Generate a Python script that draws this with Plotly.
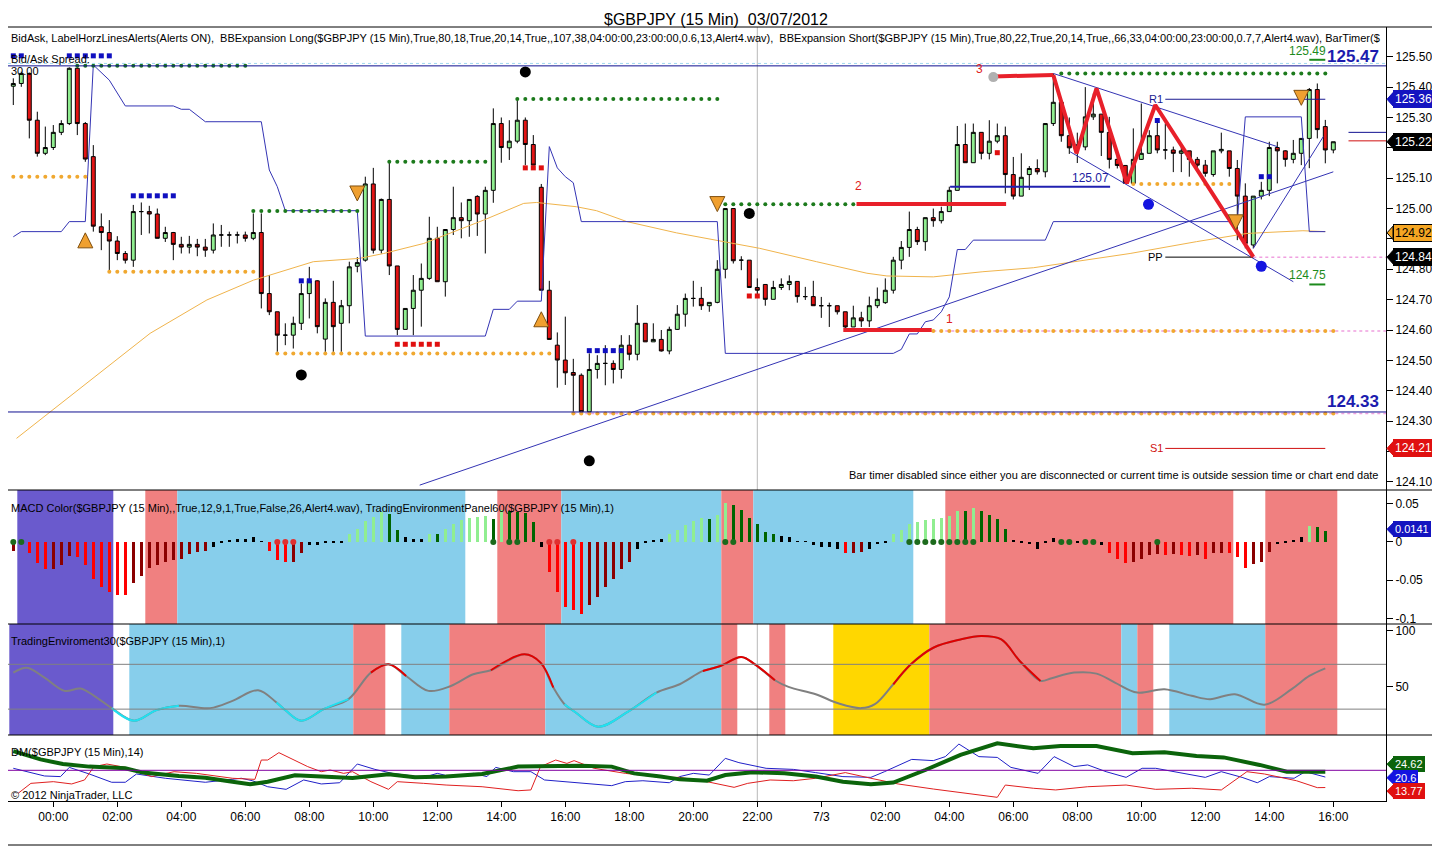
import plotly.graph_objects as go

# GBPJPY 15 min bars, bar 0 = 03/05 22:45 ... bar 165 = 03/07 16:00
opens = [125.403, 125.412, 125.445, 125.291, 125.182, 125.201, 125.251, 125.280, 125.462, 125.280,
         125.171, 124.940, 124.921, 124.893, 124.852, 124.830, 124.990, 124.990, 124.982, 124.902,
         124.921, 124.882, 124.873, 124.882, 124.873, 124.863, 124.913, 124.913, 124.913, 124.913,
         124.902, 124.921, 124.720, 124.660, 124.583, 124.583, 124.622, 124.720, 124.762, 124.570,
         124.691, 124.622, 124.680, 124.810, 124.830, 125.081, 124.863, 125.030, 124.811, 124.602,
         124.671, 124.731, 124.770, 124.902, 124.759, 124.931, 124.970, 124.960, 125.040, 124.982,
         125.060, 125.280, 125.200, 125.222, 125.291, 125.211, 125.070, 124.731, 124.550, 124.501,
         124.460, 124.451, 124.331, 124.470, 124.490, 124.490, 124.470, 124.550, 124.520, 124.622,
         124.561, 124.569, 124.531, 124.602, 124.652, 124.704, 124.704, 124.680, 124.691, 124.800,
         125.000, 124.830, 124.830, 124.740, 124.750, 124.701, 124.740, 124.750, 124.760, 124.710,
         124.710, 124.680, 124.680, 124.680, 124.660, 124.610, 124.640, 124.630, 124.680, 124.690,
         124.731, 124.830, 124.872, 124.931, 124.891, 124.970, 124.960, 124.990, 125.060, 125.211,
         125.151, 125.251, 125.182, 125.222, 125.240, 125.112, 125.041, 125.112, 125.132, 125.121,
         125.280, 125.350, 125.240, 125.200, 125.203, 125.302, 125.311, 125.251, 125.162, 125.142,
         125.083, 125.162, 125.182, 125.240, 125.193, 125.193, 125.182, 125.190, 125.162, 125.143,
         125.112, 125.190, 125.190, 125.132, 125.041, 124.880, 125.041, 125.060, 125.201, 125.190,
         125.162, 125.182, 125.231, 125.392, 125.270, 125.193]
highs = [125.429, 125.451, 125.448, 125.319, 125.270, 125.275, 125.291, 125.465, 125.465, 125.285,
         125.209, 124.984, 124.962, 124.909, 124.860, 125.012, 125.020, 125.009, 125.000, 124.940,
         124.923, 124.907, 124.910, 124.900, 124.900, 124.951, 124.946, 124.924, 124.924, 124.924,
         124.984, 124.984, 124.781, 124.660, 124.622, 124.644, 124.753, 124.808, 124.764, 124.704,
         124.762, 124.699, 124.825, 124.840, 125.105, 125.134, 125.033, 125.154, 124.811, 124.671,
         124.781, 124.819, 124.973, 124.940, 124.931, 125.072, 125.020, 125.030, 125.044, 125.072,
         125.330, 125.300, 125.291, 125.357, 125.300, 125.242, 125.081, 124.762, 124.592, 124.644,
         124.505, 124.457, 124.523, 124.517, 124.550, 124.500, 124.583, 124.583, 124.682, 124.622,
         124.622, 124.600, 124.611, 124.682, 124.720, 124.762, 124.742, 124.691, 124.830, 125.000,
         125.000, 124.843, 124.830, 124.770, 124.750, 124.762, 124.770, 124.780, 124.760, 124.742,
         124.762, 124.709, 124.690, 124.680, 124.660, 124.680, 124.660, 124.710, 124.740, 124.770,
         124.841, 124.893, 124.990, 124.940, 124.970, 125.000, 125.006, 125.072, 125.272, 125.280,
         125.280, 125.251, 125.291, 125.280, 125.270, 125.170, 125.182, 125.140, 125.162, 125.280,
         125.445, 125.350, 125.300, 125.250, 125.400, 125.379, 125.311, 125.302, 125.182, 125.142,
         125.264, 125.346, 125.258, 125.291, 125.280, 125.204, 125.204, 125.190, 125.170, 125.160,
         125.190, 125.250, 125.190, 125.160, 125.083, 125.041, 125.088, 125.220, 125.220, 125.192,
         125.226, 125.231, 125.397, 125.412, 125.292, 125.220]
lows = [125.341, 125.401, 125.231, 125.171, 125.176, 125.193, 125.242, 125.275, 125.242, 125.154,
        124.924, 124.863, 124.797, 124.830, 124.819, 124.808, 124.913, 124.918, 124.902, 124.890,
        124.830, 124.852, 124.852, 124.843, 124.841, 124.852, 124.874, 124.874, 124.885, 124.891,
        124.896, 124.671, 124.649, 124.528, 124.550, 124.539, 124.600, 124.638, 124.589, 124.528,
        124.528, 124.528, 124.622, 124.790, 124.825, 124.852, 124.852, 124.781, 124.583, 124.602,
        124.583, 124.611, 124.765, 124.759, 124.710, 124.913, 124.902, 124.907, 124.910, 124.852,
        125.019, 125.151, 125.160, 125.215, 125.143, 125.143, 124.731, 124.569, 124.410, 124.419,
        124.331, 124.328, 124.328, 124.440, 124.418, 124.424, 124.440, 124.500, 124.500, 124.561,
        124.561, 124.529, 124.520, 124.600, 124.611, 124.677, 124.666, 124.660, 124.688, 124.770,
        124.819, 124.797, 124.740, 124.712, 124.680, 124.701, 124.732, 124.731, 124.690, 124.699,
        124.680, 124.640, 124.610, 124.651, 124.605, 124.610, 124.610, 124.610, 124.672, 124.686,
        124.720, 124.800, 124.841, 124.880, 124.861, 124.940, 124.951, 124.990, 125.060, 125.151,
        125.151, 125.162, 125.162, 125.215, 125.050, 125.030, 125.041, 125.061, 125.112, 125.103,
        125.272, 125.220, 125.180, 125.150, 125.192, 125.292, 125.173, 125.132, 125.132, 125.083,
        125.083, 125.160, 125.182, 125.182, 125.162, 125.120, 125.120, 125.105, 125.132, 125.105,
        125.105, 125.182, 125.105, 124.896, 124.869, 124.869, 125.030, 125.041, 125.083, 125.138,
        125.149, 125.143, 125.133, 125.231, 125.149, 125.182]
closes = [125.412, 125.445, 125.291, 125.182, 125.201, 125.251, 125.280, 125.462, 125.280, 125.163,
          124.942, 124.921, 124.893, 124.852, 124.830, 124.990, 124.990, 124.982, 124.902, 124.921,
          124.882, 124.873, 124.882, 124.873, 124.863, 124.913, 124.913, 124.913, 124.913, 124.902,
          124.921, 124.720, 124.660, 124.583, 124.583, 124.622, 124.720, 124.762, 124.611, 124.691,
          124.611, 124.680, 124.808, 124.822, 125.081, 124.863, 125.030, 124.811, 124.602, 124.671,
          124.731, 124.770, 124.902, 124.759, 124.931, 124.970, 124.960, 125.030, 124.982, 125.060,
          125.280, 125.201, 125.222, 125.291, 125.211, 125.143, 124.731, 124.569, 124.501, 124.459,
          124.451, 124.331, 124.470, 124.490, 124.490, 124.470, 124.550, 124.520, 124.622, 124.561,
          124.569, 124.531, 124.602, 124.652, 124.704, 124.704, 124.680, 124.691, 124.800, 125.000,
          124.828, 124.830, 124.740, 124.731, 124.701, 124.740, 124.750, 124.760, 124.710, 124.710,
          124.680, 124.680, 124.680, 124.660, 124.610, 124.640, 124.630, 124.680, 124.701, 124.731,
          124.830, 124.872, 124.931, 124.891, 124.970, 124.960, 124.990, 125.060, 125.211, 125.151,
          125.251, 125.182, 125.222, 125.240, 125.112, 125.041, 125.103, 125.132, 125.121, 125.280,
          125.350, 125.240, 125.200, 125.210, 125.302, 125.311, 125.251, 125.162, 125.142, 125.083,
          125.162, 125.182, 125.240, 125.193, 125.193, 125.182, 125.190, 125.162, 125.143, 125.116,
          125.190, 125.195, 125.132, 125.041, 124.885, 125.041, 125.060, 125.201, 125.190, 125.162,
          125.182, 125.231, 125.392, 125.260, 125.193, 125.220]
bars = list(range(len(closes)))

# x axis labels (every 2 hours)
tick_bars = list(range(5, 166, 8))
tick_text = ["00:00", "02:00", "04:00", "06:00", "08:00", "10:00", "12:00", "14:00", "16:00", "18:00",
             "20:00", "22:00", "7/3", "02:00", "04:00", "06:00", "08:00", "10:00", "12:00", "14:00", "16:00"]
price_ticks = [124.1, 124.2, 124.3, 124.4, 124.5, 124.6, 124.7, 124.8, 124.9, 125.0, 125.1, 125.2, 125.3, 125.4, 125.5]

# blue stepped channel line
step_x = [0, 1, 6, 7, 9, 10, 12, 14, 20, 21, 22, 24, 31, 32, 33, 34, 43, 44, 59, 60, 62, 63, 66, 67, 68, 69,
          70, 71, 88, 89, 110, 111, 112, 113, 114, 115, 116, 117, 118, 119, 120, 129, 130, 153, 154, 161, 162, 164]
step_y = [124.907, 124.924, 124.924, 124.957, 124.957, 125.473, 125.423, 125.338, 125.338, 125.327, 125.327,
          125.286, 125.286, 125.127, 125.072, 124.993, 124.993, 124.580, 124.580, 124.668, 124.668, 124.695,
          124.695, 125.204, 125.134, 125.105, 125.085, 124.957, 124.957, 124.523, 124.523, 124.536, 124.587,
          124.587, 124.627, 124.633, 124.660, 124.709, 124.865, 124.865, 124.896, 124.896, 124.957, 124.957,
          125.302, 125.302, 124.924, 124.924]

# slow moving average (orange)
sma_x = [0.4, 5.4, 10.8, 17.1, 24.2, 30, 37.5, 43.3, 46.3, 51.3, 58.8, 63.8, 65.4, 70.4, 72.9, 76.7, 82.9,
         87.1, 93.3, 100.4, 106.7, 109.2, 115, 121.2, 127.5, 139.6, 147.9, 154.2, 161.2, 164]
sma_y = [124.243, 124.347, 124.457, 124.589, 124.699, 124.764, 124.825, 124.836, 124.852, 124.885, 124.962,
         125.017, 125.020, 125.006, 124.993, 124.957, 124.920, 124.899, 124.869, 124.825, 124.787, 124.778,
         124.775, 124.792, 124.805, 124.852, 124.891, 124.918, 124.927, 124.924]

# red zigzag
zig_x = [130, 132.9, 135.4, 139.2, 142.75, 155]
zig_y = [125.44, 125.182, 125.396, 125.083, 125.341, 124.841]

# horizontal dotted levels: (price, first bar, last bar)
green_dots = [(125.47, 8, 29), (124.992, 30, 43), (125.154, 47, 59), (125.361, 63, 88),
              (125.014, 89, 105), (125.445, 131, 164)]
orange_dots = [(125.105, 0, 9), (124.792, 12, 30), (124.523, 33, 67), (125.081, 140, 152),
               (124.325, 70, 165), (124.597, 115, 165)]
blue_squares = [(125.503, -1, 1), (125.503, 7, 12), (125.042, 15, 20), (124.762, 36, 37),
                (124.532, 72, 76), (125.29, 143, 143), (125.105, 156, 157)]
red_squares = [(124.553, 48, 53), (125.134, 64, 66), (124.712, 92, 93), (125.184, 123, 123)]

black_dot_x = [36, 64, 72, 92]
black_dot_y = [124.452, 125.45, 124.169, 124.984]
blue_dot_x = [141.9, 156]
blue_dot_y = [125.014, 124.81]

arrow_up_x = [9, 66]
arrow_up_y = [124.92, 124.66]
arrow_dn_x = [43, 88, 152.8, 161]
arrow_dn_y = [125.025, 124.99, 124.93, 125.34]

# MACD histogram
macd = [-0.012, 0.002, -0.015, -0.028, -0.035, -0.035, -0.030, -0.019, -0.020, -0.030,
        -0.049, -0.059, -0.065, -0.069, -0.070, -0.054, -0.044, -0.034, -0.030, -0.026,
        -0.024, -0.022, -0.016, -0.013, -0.012, -0.006, -0.001, 0.002, 0.004, 0.004,
        0.007, 0.001, -0.012, -0.023, -0.026, -0.026, -0.015, -0.004, -0.004, -0.002,
        -0.001, -0.001, 0.010, 0.017, 0.028, 0.033, 0.039, 0.037, 0.015, 0.007,
        0.004, 0.004, 0.011, 0.010, 0.017, 0.024, 0.029, 0.032, 0.033, 0.034,
        0.030, 0.042, 0.040, 0.039, 0.038, 0.026, -0.007, -0.039, -0.065, -0.085,
        -0.089, -0.094, -0.083, -0.072, -0.059, -0.049, -0.035, -0.026, -0.009, -0.001,
        0.002, 0.004, 0.010, 0.015, 0.022, 0.027, 0.031, 0.030, 0.035, 0.051,
        0.048, 0.042, 0.032, 0.023, 0.013, 0.010, 0.008, 0.0065, 0.001, 0.0005,
        -0.004, -0.006, -0.007, -0.009, -0.014, -0.014, -0.013, -0.009, -0.003, -0.0005,
        0.010, 0.016, 0.024, 0.026, 0.029, 0.030, 0.031, 0.034, 0.041, 0.040,
        0.045, 0.040, 0.035, 0.030, 0.017, 0.003, -0.0013, -0.003, -0.009, -0.0005,
        0.005, 0.001, 0.001, -0.002, 0.001, 0.001, -0.004, -0.015, -0.022, -0.027,
        -0.026, -0.022, -0.017, -0.016, -0.017, -0.016, -0.017, -0.018, -0.017, -0.022,
        -0.015, -0.014, -0.015, -0.020, -0.034, -0.029, -0.026, -0.013, -0.003, -0.0005,
        0.003, 0.007, 0.021, 0.020, 0.0141, None]
macd_up_dots = [0, 1, 60, 62, 63, 89, 90, 112, 113, 114, 115, 116, 117, 118, 119, 120, 131, 132, 134, 135, 143]
macd_dn_dots = [33, 34, 35, 67, 68, 70]

# trading environment background bands (first bar, last bar, state)
macd_bands = [(0.5, 12.5, "p"), (16.5, 20.5, "r"), (20.5, 56.5, "b"), (60.5, 68.5, "r"), (68.5, 88.5, "b"),
              (88.5, 92.5, "r"), (92.5, 112.5, "b"), (116.5, 152.5, "r"), (156.5, 165.5, "r")]
te_bands = [(-0.5, 12.5, "p"), (14.5, 42.5, "b"), (42.5, 46.5, "r"), (48.5, 54.5, "b"), (54.5, 66.5, "r"),
            (66.5, 88.5, "b"), (88.5, 90.5, "r"), (94.5, 96.5, "r"), (102.5, 114.5, "g"), (114.5, 138.5, "r"),
            (138.5, 140.5, "b"), (140.5, 142.5, "r"), (144.5, 156.5, "b"), (156.5, 165.5, "r")]

# TradingEnviroment30 oscillator
te_x = [0.0, 1.7, 3.9, 6.4, 8.4, 10.1, 12.3, 15.1, 17.9, 20.7, 24.6, 27.4, 30.6, 32.9, 34.1, 36.0, 38.8, 41.9,
        44.7, 46.9, 49.1, 51.9, 54.7, 57.5, 59.7, 63.9, 65.9, 67.5, 68.9, 70.3, 73.1, 77.0, 80.4, 83.3, 86.2,
        88.4, 91.0, 92.7, 95.2, 96.9, 100.3, 103.2, 106.0, 107.7, 110.0, 112.2, 115.0, 118.4, 121.0, 123.5,
        125.8, 128.4, 129.8, 132.6, 135.4, 137.7, 140.5, 143.9, 147.3, 149.6, 152.7, 156.4, 159.8, 162.0, 164.0]
te_y = [62.6, 67.0, 58.1, 46.3, 48.4, 41.9, 30.9, 19.6, 29.1, 33.0, 30.9, 37.4, 46.9, 35.9, 28.5, 19.6, 30.0,
        38.9, 62.6, 70.0, 59.6, 46.3, 50.7, 61.1, 64.7, 78.9, 71.5, 49.3, 34.4, 27.0, 14.3, 28.5, 44.8, 52.2,
        64.1, 68.5, 76.5, 70.0, 55.8, 49.9, 43.3, 35.0, 30.9, 34.4, 52.2, 70.0, 84.8, 92.2, 95.2, 92.2, 73.0,
        55.2, 57.6, 62.6, 61.7, 53.7, 44.8, 47.8, 41.9, 38.9, 43.3, 33.9, 47.8, 59.6, 66.4]

# DM(14): ADX, +DI, -DI
adx_x = [0, 3.4, 6.2, 9.5, 14.0, 16.2, 20.7, 24.0, 27.4, 29.6, 31.8, 35.2, 38.5, 42.4, 46.9, 50.2, 54.1, 58.6,
         63.1, 67.5, 70.9, 74.8, 77.6, 80.9, 83.3, 86.7, 89.0, 92.4, 96.4, 100.3, 103.7, 107.2, 110.0, 114.0,
         118.4, 123.0, 127.5, 130.9, 135.4, 139.9, 143.9, 147.9, 151.3, 155.8, 159.2, 164.0]
adx_y = [37.5, 32.1, 29.1, 27.4, 26.3, 23.5, 21.3, 20.2, 17.6, 15.9, 17.6, 21.7, 20.9, 20.0, 22.4, 20.4, 20.9,
         22.6, 27.4, 28.0, 28.0, 27.4, 23.0, 20.9, 19.1, 18.2, 21.9, 23.7, 23.0, 20.9, 17.6, 15.9, 17.0, 25.2,
         35.0, 42.6, 39.3, 40.8, 40.8, 36.1, 36.7, 34.3, 33.4, 28.5, 24.1, 24.1]
pdi_x = [0, 1.7, 3.9, 5.9, 7.0, 9.5, 12.3, 14.0, 15.4, 19.0, 24.0, 28.5, 29.9, 31.8, 34.1, 36.3, 38.5, 40.8,
         43.0, 45.2, 47.4, 51.3, 53.0, 54.7, 57.5, 59.2, 60.3, 62.5, 64.7, 66.4, 70.9, 74.8, 76.5, 78.7, 82.0,
         83.3, 85.0, 87.0, 89.0, 90.7, 94.1, 97.5, 100.3, 103.7, 107.2, 108.9, 112.3, 115.0, 116.5, 118.2,
         120.7, 123.0, 124.7, 128.1, 130.1, 132.6, 134.3, 136.6, 139.1, 141.1, 142.8, 145.6, 149.0, 151.0,
         153.6, 155.5, 157.0, 160.1, 161.5, 164.0]
pdi_y = [26.3, 24.1, 21.3, 20.9, 26.9, 22.6, 17.2, 17.2, 22.6, 19.8, 17.2, 19.8, 18.2, 14.3, 12.6, 18.7, 16.1,
         16.9, 29.1, 25.6, 23.0, 20.4, 23.0, 20.9, 23.0, 20.9, 26.9, 24.1, 24.1, 18.7, 16.9, 15.0, 17.6, 18.2,
         16.9, 20.9, 23.0, 21.9, 32.8, 30.0, 26.3, 25.6, 23.5, 20.9, 20.4, 24.1, 32.1, 31.3, 33.9, 42.1, 33.9,
         33.4, 26.9, 23.0, 33.9, 27.4, 28.5, 24.1, 20.4, 26.3, 26.3, 23.5, 20.4, 24.1, 20.4, 16.9, 20.9, 19.8,
         24.1, 20.6]
mdi_x = [0.6, 2.2, 5.0, 7.3, 8.9, 10.1, 11.7, 14.0, 17.3, 20.1, 22.9, 27.4, 30.2, 31.0, 31.8, 33.2, 36.8, 38.5,
         39.6, 41.3, 42.4, 44.7, 46.9, 48.0, 51.3, 54.1, 58.6, 63.1, 64.7, 65.9, 67.8, 69.2, 70.1, 72.6, 76.5,
         81.0, 83.3, 86.7, 90.1, 91.8, 94.6, 97.5, 100.3, 104.0, 107.2, 110.6, 115.0, 119.5, 123.0, 124.0,
         127.5, 130.3, 134.3, 139.1, 142.8, 147.3, 151.0, 154.2, 156.4, 160.4, 163.0, 164.0]
mdi_y = [10.0, 16.5, 17.6, 16.1, 18.7, 27.4, 29.1, 26.9, 20.9, 24.1, 23.0, 19.8, 19.1, 31.7, 31.7, 36.5, 27.4,
         24.1, 25.2, 23.0, 24.1, 17.6, 12.6, 17.6, 16.5, 15.4, 14.3, 11.7, 12.2, 27.4, 31.7, 29.5, 31.3, 26.3,
         23.0, 20.4, 20.4, 17.6, 13.9, 16.5, 18.7, 18.2, 19.8, 23.5, 19.8, 16.1, 12.8, 10.0, 7.4, 15.4, 13.3,
         12.2, 14.3, 15.4, 12.6, 13.3, 12.2, 24.1, 22.6, 18.2, 13.7, 13.77]

FONT = "Liberation Sans, Arial, sans-serif"
# the page has an 8px body margin, so the figure is laid out 8px in from the reference corner
OFF = 8
W, H = 1440 - OFF, 847 - OFF
ML, MR, MT, MB = 0, 54, 27 - OFF, 46
PLOT_W = W - ML - MR
PLOT_H = H - MT - MB
BAND_COL = {"p": "#6a5acd", "r": "#f08080", "b": "#87ceeb", "g": "#ffd700"}


def px(X):
    return (X - OFF - ML) / PLOT_W


def py(Y):
    return (H - MB - (Y - OFF)) / PLOT_H


fig = go.Figure()

# session line at 22:00
fig.add_shape(type="line", xref="x", yref="paper", x0=93, x1=93, y0=0, y1=1,
              line=dict(color="#b8b8b8", width=1), layer="below")

for x0, x1, c in macd_bands:
    fig.add_shape(type="rect", xref="x", yref="y2 domain", x0=x0, x1=x1, y0=0, y1=1,
                  fillcolor=BAND_COL[c], line_width=0, layer="below")
for x0, x1, c in te_bands:
    fig.add_shape(type="rect", xref="x", yref="y3 domain", x0=x0, x1=x1, y0=0, y1=1,
                  fillcolor=BAND_COL[c], line_width=0, layer="below")

# price panel
fig.add_trace(go.Candlestick(x=bars, open=opens, high=highs, low=lows, close=closes,
                             increasing=dict(fillcolor="#90ee90", line=dict(color="black", width=1)),
                             decreasing=dict(fillcolor="#e31414", line=dict(color="black", width=1)),
                             whiskerwidth=0, xaxis="x", yaxis="y"))

fig.add_trace(go.Scatter(x=sma_x, y=sma_y, mode="lines", line=dict(color="#f0b44c", width=1), yaxis="y"))
fig.add_trace(go.Scatter(x=step_x, y=step_y, mode="lines", line=dict(color="#3434b4", width=1), yaxis="y"))

# trend lines
for xs, ys in [([50.8, 165], [124.089, 125.121]), ([130, 158], [125.445, 125.204]),
               ([132.1, 160], [125.187, 124.759]), ([155, 163.75], [124.869, 125.237])]:
    fig.add_trace(go.Scatter(x=xs, y=ys, mode="lines", line=dict(color="#3434b4", width=1), yaxis="y"))

# horizontal levels
for lvl in [125.47, 124.33]:
    fig.add_shape(type="line", xref="x domain", yref="y", x0=0, x1=1, y0=lvl, y1=lvl,
                  line=dict(color="#101090", width=1))
fig.add_shape(type="line", xref="x domain", yref="y", x0=0, x1=1, y0=125.478, y1=125.478,
              line=dict(color="#9fd8ee", width=1, dash="dot"))
for lvl, b0 in [(124.325, 70), (124.597, 115), (124.84, 155)]:
    fig.add_trace(go.Scatter(x=[b0, 171.6], y=[lvl, lvl], mode="lines",
                             line=dict(color="#f0a0e0", width=1.5, dash="dot"), yaxis="y"))


def dots(levels, color, symbol, size):
    xs, ys = [], []
    for lvl, b0, b1 in levels:
        for b in range(b0, b1 + 1):
            xs.append(b)
            ys.append(lvl)
    fig.add_trace(go.Scatter(x=xs, y=ys, mode="markers", yaxis="y",
                             marker=dict(color=color, symbol=symbol, size=size, line_width=0)))


dots(green_dots, "#1c7a1c", "circle", 4)
dots(orange_dots, "#f0a830", "circle", 4)
dots(blue_squares, "#1010c0", "square", 5)
dots(red_squares, "#e01010", "square", 5)

# pivots
for lvl, col, lab in [(125.36, "#1a1a90", "R1"), (124.84, "black", "PP"), (124.21, "#d01010", "S1")]:
    x1 = 155 if lab == "PP" else 164
    fig.add_trace(go.Scatter(x=[144, x1], y=[lvl, lvl], mode="lines", line=dict(color=col, width=1), yaxis="y"))
    fig.add_annotation(x=144, y=lvl, xref="x", yref="y", text=lab, showarrow=False, xanchor="right",
                       font=dict(family=FONT, size=11, color=col))

# 125.07 line
fig.add_trace(go.Scatter(x=[117.1, 137.1], y=[125.072, 125.072], mode="lines",
                         line=dict(color="#2020b0", width=2), yaxis="y"))
fig.add_annotation(x=134.7, y=125.072, xref="x", yref="y", text="125.07", showarrow=False, yanchor="bottom",
                   font=dict(family=FONT, size=12, color="#2020a0"))

# numbered swing levels
fig.add_trace(go.Scatter(x=[103.75, 114.8], y=[124.60, 124.60], mode="lines", line=dict(color="#e8202a", width=4), yaxis="y"))
fig.add_trace(go.Scatter(x=[105.4, 124.1], y=[125.015, 125.015], mode="lines", line=dict(color="#e8202a", width=4), yaxis="y"))
fig.add_trace(go.Scatter(x=[122.5, 130], y=[125.435, 125.44], mode="lines", line=dict(color="#e8202a", width=4), yaxis="y"))
fig.add_trace(go.Scatter(x=[122.5], y=[125.433], mode="markers", marker=dict(color="#b0b0b0", size=10), yaxis="y"))
for bx, lv, lab in [(117, 124.635, "1"), (105.7, 125.075, "2"), (120.8, 125.46, "3")]:
    fig.add_annotation(x=bx, y=lv, xref="x", yref="y", text=lab, showarrow=False,
                       font=dict(family=FONT, size=12, color="#e02020"))

fig.add_trace(go.Scatter(x=zig_x, y=zig_y, mode="lines", line=dict(color="#e8202a", width=4), yaxis="y"))

fig.add_trace(go.Scatter(x=black_dot_x, y=black_dot_y, mode="markers", marker=dict(color="black", size=11), yaxis="y"))
fig.add_trace(go.Scatter(x=blue_dot_x, y=blue_dot_y, mode="markers", marker=dict(color="#1414e0", size=11), yaxis="y"))
fig.add_trace(go.Scatter(x=arrow_up_x, y=arrow_up_y, mode="markers", yaxis="y",
                         marker=dict(color="#f0a030", symbol="arrow-up", size=15, line=dict(color="#805010", width=1))))
fig.add_trace(go.Scatter(x=arrow_dn_x, y=arrow_dn_y, mode="markers", yaxis="y",
                         marker=dict(color="#f0a030", symbol="arrow-down", size=15, line=dict(color="#805010", width=1))))

# price target labels
for lv, lab in [(125.49, "125.49"), (124.75, "124.75")]:
    fig.add_trace(go.Scatter(x=[162, 164], y=[lv, lv], mode="lines", line=dict(color="#1c8a1c", width=2), yaxis="y"))
    fig.add_annotation(x=161.8, y=lv, xref="x", yref="y", text=lab, showarrow=False, yanchor="bottom",
                       font=dict(family=FONT, size=12, color="#1c8a1c"))

fig.add_trace(go.Scatter(x=[166.9, 171.6], y=[125.251, 125.251], mode="lines", line=dict(color="#101090", width=1), yaxis="y"))
fig.add_trace(go.Scatter(x=[166.9, 171.6], y=[125.223, 125.223], mode="lines", line=dict(color="#d01010", width=1), yaxis="y"))

# MACD panel
mcol = []
prev = None
for v in macd:
    if v is None:
        mcol.append("black")
    elif abs(v) < 0.0095:
        mcol.append("black")
    elif v > 0:
        mcol.append("#90ee90" if prev is not None and v > prev else "#006400")
    else:
        mcol.append("#ff0000" if prev is not None and v < prev else "#8b0000")
    prev = v
fig.add_trace(go.Bar(x=bars, y=macd, marker=dict(color=mcol, line_width=0), width=0.42, yaxis="y2"))
fig.add_trace(go.Scatter(x=macd_up_dots, y=[0] * len(macd_up_dots), mode="markers", yaxis="y2",
                         marker=dict(color="#1c6a1c", size=6)))
fig.add_trace(go.Scatter(x=macd_dn_dots, y=[0] * len(macd_dn_dots), mode="markers", yaxis="y2",
                         marker=dict(color="#e03030", size=6)))

# TE30 panel
for lvl in [70, 30]:
    fig.add_shape(type="line", xref="x domain", yref="y3", x0=0, x1=1, y0=lvl, y1=lvl,
                  line=dict(color="#808080", width=1))
fig.add_trace(go.Scatter(x=te_x, y=te_y, mode="lines", line=dict(color="#808080", width=2, shape="spline"), yaxis="y3"))
for color, test in [("#e00000", lambda a, b: max(a, b) >= 68), ("#20e0f0", lambda a, b: min(a, b) <= 30)]:
    sx, sy = [], []
    for i in range(len(te_x) - 1):
        if test(te_y[i], te_y[i + 1]):
            if sx and sx[-1] == te_x[i]:
                sx.append(te_x[i + 1]); sy.append(te_y[i + 1])
            else:
                sx += [None, te_x[i], te_x[i + 1]]; sy += [None, te_y[i], te_y[i + 1]]
    fig.add_trace(go.Scatter(x=sx, y=sy, mode="lines", line=dict(color=color, width=2, shape="spline"), yaxis="y3"))

# DM panel
fig.add_shape(type="line", xref="x domain", yref="y4", x0=0, x1=1, y0=25, y1=25, line=dict(color="#8000a0", width=1))
fig.add_trace(go.Scatter(x=pdi_x, y=pdi_y, mode="lines", line=dict(color="#2020c8", width=1), yaxis="y4"))
fig.add_trace(go.Scatter(x=mdi_x, y=mdi_y, mode="lines", line=dict(color="#e02020", width=1), yaxis="y4"))
fig.add_trace(go.Scatter(x=adx_x, y=adx_y, mode="lines", line=dict(color="#0b640b", width=4), yaxis="y4"))

# frame and panel separators
fig.add_shape(type="rect", xref="paper", yref="paper", x0=px(0.5), x1=px(1438), y0=py(845), y1=1,
              line=dict(color="black", width=1))
for Y in [490, 624, 735]:
    fig.add_shape(type="line", xref="paper", yref="paper", x0=px(0.5), x1=px(1438), y0=py(Y), y1=py(Y),
                  line=dict(color="black", width=1))


def txt(X, Y, s, size=11, color="black", anchor="left", bold=False, yanchor="middle"):
    fig.add_annotation(x=px(X), y=py(Y), xref="paper", yref="paper", text=("<b>%s</b>" % s) if bold else s,
                       showarrow=False, xanchor=anchor, yanchor=yanchor,
                       font=dict(family=FONT, size=size, color=color))


txt(716, 8.5, "$GBPJPY (15 Min)  03/07/2012", size=16, anchor="center", yanchor="top")
txt(9, 38, "BidAsk, LabelHorzLinesAlerts(Alerts ON),  BBExpansion Long($GBPJPY (15 Min),True,80,18,True,20,14,True,,107,38,"
           "04:00:00,23:00:00,0.6,13,Alert4.wav),  BBExpansion Short($GBPJPY (15 Min),True,80,22,True,20,14,True,,66,33,"
           "04:00:00,23:00:00,0.7,7,Alert4.wav), BarTimer($", size=11)
txt(9, 59, "Bid/Ask Spread:", size=11)
txt(9, 71, "30.00", size=11)
txt(1381, 475, "Bar timer disabled since either you are disconnected or current time is outside session time or chart end date",
    size=11, anchor="right")
txt(1381, 56, "125.47", size=17, color="#1c1cae", anchor="right", bold=True)
txt(1381, 401, "124.33", size=17, color="#1c1cae", anchor="right", bold=True)
txt(9, 508, "MACD Color($GBPJPY (15 Min),,True,12,9,1,True,False,26,Alert4.wav), TradingEnvironmentPanel60($GBPJPY (15 Min),1)", size=11)
txt(9, 641, "TradingEnviroment30($GBPJPY (15 Min),1)", size=11)
txt(9, 752, "DM($GBPJPY (15 Min),14)", size=11)
txt(9, 795, "© 2012 NinjaTrader, LLC", size=11)


def flag(val, yref, half, bg, fg, s, border=None, size=12):
    fig.add_shape(type="path", xref="paper", yref=yref,
                  path="M %f,%f L %f,%f L %f,%f Z" % (px(1387), val, px(1393), val + half, px(1393), val - half),
                  fillcolor=bg, line=dict(color=border or bg, width=1))
    fig.add_annotation(x=px(1393), y=val, xref="paper", yref=yref, text=s, showarrow=False, xanchor="left",
                       yanchor="middle", bgcolor=bg, borderpad=1, bordercolor=border or bg,
                       font=dict(family=FONT, size=size, color=fg))


flag(125.36, "y", 0.022, "#1414c0", "white", "125.36")
flag(125.22, "y", 0.022, "black", "white", "125.22")
flag(124.92, "y", 0.022, "#f5a623", "black", "124.92", border="black")
flag(124.84, "y", 0.022, "black", "white", "124.84")
flag(124.21, "y", 0.022, "#e01010", "white", "124.21")
flag(0.0166, "y2", 0.008, "#1414c0", "white", "0.0141", size=11)
flag(29.0, "y4", 3.9, "#0b640b", "white", "24.62", size=11)
flag(20.2, "y4", 3.9, "#1414e0", "white", "20.6", size=11)
flag(11.4, "y4", 3.9, "#e01010", "white", "13.77", size=11)

# price tick labels hidden under the value flags are left blank, as on the chart
hidden = {124.2, 124.9, 125.2}
price_text = ["" if t in hidden else "%.2f" % t for t in price_ticks]

yax = dict(side="right", anchor="x", showgrid=False, zeroline=False, showline=True, linecolor="black",
           linewidth=1, ticks="outside", ticklen=6, tickcolor="black",
           tickfont=dict(family=FONT, size=12, color="black"))
fig.update_layout(
    width=W, height=H, margin=dict(l=ML, r=MR, t=MT, b=MB, autoexpand=False),
    paper_bgcolor="white", plot_bgcolor="white", showlegend=False, bargap=0,
    font=dict(family=FONT, size=11, color="black"),
    xaxis=dict(range=[(OFF - 13.3) / 8, (1386 - 13.3) / 8], anchor="y4", showgrid=False, zeroline=False,
               rangeslider=dict(visible=False), tickvals=tick_bars, ticktext=tick_text, ticks="outside",
               ticklen=5, tickcolor="black", showline=True, linecolor="black",
               tickfont=dict(family=FONT, size=12, color="black")),
    yaxis=dict(yax, domain=[py(490), 1.0], range=[124.073, 125.598], tickvals=price_ticks, ticktext=price_text),
    yaxis2=dict(yax, domain=[py(624), py(490)], range=[-0.1074, 0.068], tickvals=[0.05, 0, -0.05, -0.1],
                ticktext=["0.05", "0", "-0.05", "-0.1"]),
    yaxis3=dict(yax, domain=[py(735), py(624)], range=[6.9, 106], tickvals=[100, 50]),
    yaxis4=dict(yax, domain=[0, py(735)], range=[5, 48], showticklabels=False, ticks=""),
)

fig.write_html("out.html")
